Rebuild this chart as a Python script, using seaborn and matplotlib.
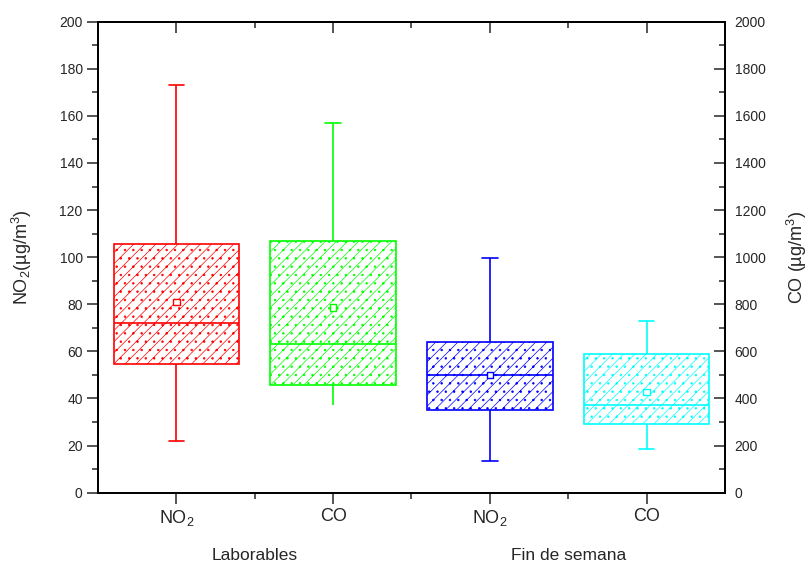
import numpy as np
import pandas as pd
import matplotlib
matplotlib.use("Agg")
import matplotlib.pyplot as plt
import seaborn as sns

# five-number summaries: min, q1, median, q3, max
no2_lab = [22, 54.5, 72, 105.5, 173]
no2_fds = [13.5, 35, 50, 64, 99.5]
co_lab = [372, 456, 630, 1069, 1571]
co_fds = [184, 292, 374, 590, 728]

no2_means = [81, 50]
co_means = [787, 428]

no2_pos = [1, 3]
co_pos = [2, 4]
tick_labels = ["NO$_\\mathregular{2}$", "CO", "NO$_\\mathregular{2}$", "CO"]
groups = ["Laborables", "Fin de semana"]
group_pos = [1.5, 3.5]

no2_colors = ["#ff0000", "#0000ff"]
co_colors = ["#00ff00", "#00ffff"]

sns.set_style("ticks")
plt.rcParams["font.family"] = ["Liberation Sans", "DejaVu Sans"]
plt.rcParams["mathtext.fontset"] = "custom"
plt.rcParams["mathtext.rm"] = "Liberation Sans"
plt.rcParams["hatch.linewidth"] = 0.5


def draw_box(ax, pos, vals, col):
    d = pd.DataFrame({"pos": [pos] * len(vals), "val": vals})
    sns.boxplot(data=d, x="pos", y="val", native_scale=True, width=0.8,
                whis=(0, 100), color="white", linecolor=col, linewidth=1.2,
                fliersize=0, capwidths=0.1, ax=ax)
    box = ax.patches[-1]
    box.set_facecolor("white")
    box.set_edgecolor(col)
    box.set_hatch("///..")


def draw_means(ax, pos, means, cols):
    d = pd.DataFrame({"pos": pos, "val": means})
    sns.scatterplot(data=d, x="pos", y="val", hue="pos", palette=cols,
                    marker="s", s=22, linewidth=1, legend=False, zorder=5, ax=ax)
    coll = ax.collections[-1]
    coll.set_edgecolors(coll.get_facecolors())
    coll.set_facecolor("white")


fig = plt.figure(figsize=(8.11, 5.68), dpi=100)
ax = fig.add_axes([0.1208, 0.1326, 0.7731, 0.8292])
ax2 = ax.twinx()

for p, v, c in zip(no2_pos, [no2_lab, no2_fds], no2_colors):
    draw_box(ax, p, v, c)
for p, v, c in zip(co_pos, [co_lab, co_fds], co_colors):
    draw_box(ax2, p, v, c)
draw_means(ax, no2_pos, no2_means, no2_colors)
draw_means(ax2, co_pos, co_means, co_colors)

# green lower whisker has no cap in the original
for ln in ax2.lines:
    yd = np.asarray(ln.get_ydata(), dtype=float)
    xd = np.asarray(ln.get_xdata(), dtype=float)
    if len(yd) == 2 and np.allclose(yd, co_lab[0]) and abs(xd.mean() - co_pos[0]) < 0.3:
        ln.set_visible(False)

ax.set_xlim(0.5, 4.5)
ax.set_ylim(0, 200)
ax2.set_ylim(0, 2000)

ax.set_xticks([1, 2, 3, 4])
ax.set_xticklabels(tick_labels, fontsize=13)
ax.set_xticks([1.5, 2.5, 3.5], minor=True)
ax.set_yticks(np.arange(0, 201, 20))
ax.set_yticks(np.arange(0, 201, 10), minor=True)
ax2.set_yticks(np.arange(0, 2001, 200))
ax2.set_yticks(np.arange(0, 2001, 100), minor=True)

ax.tick_params(axis="y", which="major", direction="out", length=8, width=1.1,
               labelsize=10, pad=3)
ax.tick_params(axis="y", which="minor", direction="out", length=4, width=1.1)
ax.tick_params(axis="x", which="major", direction="out", length=8, width=1.1, pad=3)
ax.tick_params(axis="x", which="minor", direction="out", length=4, width=1.1)
ax2.tick_params(axis="y", which="major", direction="in", length=8, width=1.1,
                labelsize=10, pad=7)
ax2.tick_params(axis="y", which="minor", direction="in", length=4, width=1.1)

top = ax.secondary_xaxis("top")
top.set_xticks([1, 2, 3, 4])
top.set_xticks([1.5, 2.5, 3.5], minor=True)
top.tick_params(which="major", direction="in", length=8, width=1.1, labeltop=False)
top.tick_params(which="minor", direction="in", length=4, width=1.1)

for a in (ax, ax2):
    for s in a.spines.values():
        s.set_linewidth(1.3)
        s.set_color("black")
        s.set_visible(True)
top.spines["top"].set_linewidth(1.3)

ax.set_xlabel("")
ax.set_ylabel("NO$_\\mathregular{2}$(µg/m$^\\mathregular{3}$)", fontsize=13)
ax.yaxis.set_label_coords(-0.102, 0.5)
ax2.set_ylabel("CO (µg/m$^\\mathregular{3}$)", fontsize=13)
ax2.yaxis.set_label_coords(1.0957, 0.5)

for gx, g in zip(group_pos, groups):
    ax.text(gx, -0.134, g, transform=ax.get_xaxis_transform(),
            ha="center", va="center", fontsize=12.5)

fig.savefig("out.png", dpi=100)
